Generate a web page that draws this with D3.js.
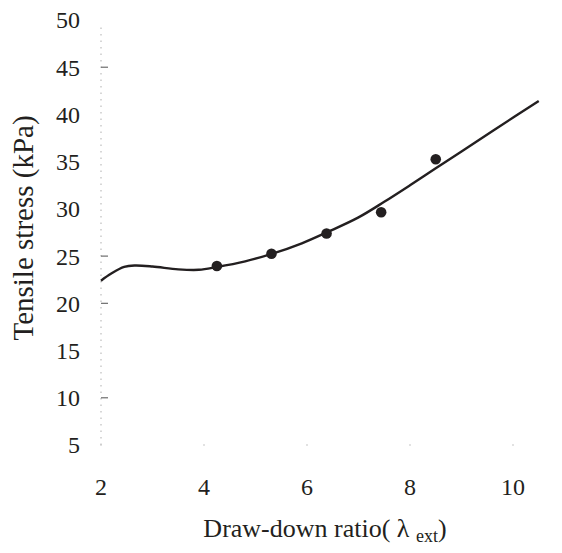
<!DOCTYPE html>
<html>
<head>
<meta charset="utf-8">
<script src="https://cdn.jsdelivr.net/npm/d3@7"></script>
<style>
  html, body { margin: 0; padding: 0; background: #fff; }
  svg { display: block; }
</style>
</head>
<body>
<svg id="chart" width="562" height="553"></svg>
<script>
// Measured tensile stress at each draw-down ratio
const ratioMeasured = [4.25, 5.31, 6.38, 7.44, 8.5];
const stressMeasured = [23.95, 25.25, 27.4, 29.65, 35.25];

// Model curve
const ratioModel = [2, 2.2, 2.45, 2.65, 3, 3.5, 3.9, 4.25, 4.8, 5.3, 5.9, 6.4, 7, 7.5, 8, 8.5, 9, 9.7, 10.5];
const stressModel = [22.4, 23.15, 23.85, 24.0, 23.9, 23.6, 23.55, 23.85, 24.45, 25.2, 26.35, 27.55, 29.1, 30.75, 32.5, 34.3, 36.08, 38.6, 41.42];

// Axis ticks
const xTicks = [2, 4, 6, 8, 10];
const yTicks = [5, 10, 15, 20, 25, 30, 35, 40, 45, 50];
const yMarkedTicks = [10, 20, 25, 45];

const svg = d3.select("#chart");
const ink = "#231f20";
const serif = "'Liberation Serif', 'Times New Roman', serif";

const x = d3.scaleLinear().domain([2, 10]).range([101, 513]);
const y = d3.scaleLinear().domain([5, 50]).range([445, 20]);

// Dotted vertical axis
svg.append("line")
  .attr("x1", x(2)).attr("x2", x(2))
  .attr("y1", y(49.2)).attr("y2", y(5))
  .attr("stroke", "#bdbdbd").attr("stroke-width", 1.2)
  .attr("stroke-dasharray", "1.5,5");

// Short marks on the vertical axis
svg.selectAll(".ymark").data(yMarkedTicks).join("line")
  .attr("class", "ymark")
  .attr("x1", x(2)).attr("x2", x(2) + 7)
  .attr("y1", d => y(d)).attr("y2", d => y(d))
  .attr("stroke", "#6d6d6d").attr("stroke-width", 1.2);

// Faint dots at the horizontal tick positions
svg.selectAll(".xmark").data(xTicks).join("rect")
  .attr("class", "xmark")
  .attr("x", d => x(d) - 0.7).attr("y", y(5) - 0.7)
  .attr("width", 1.4).attr("height", 1.4)
  .attr("fill", "#c4c4c4");

// Y tick labels
svg.selectAll(".ylab").data(yTicks).join("text")
  .attr("class", "ylab")
  .attr("x", 80).attr("y", d => y(d))
  .attr("dy", "0.35em")
  .attr("text-anchor", "end")
  .attr("font-family", serif)
  .attr("font-size", 24)
  .attr("fill", ink)
  .text(d => d);

// X tick labels
svg.selectAll(".xlab").data(xTicks).join("text")
  .attr("class", "xlab")
  .attr("x", d => x(d)).attr("y", 495)
  .attr("text-anchor", "middle")
  .attr("font-family", serif)
  .attr("font-size", 24)
  .attr("fill", ink)
  .text(d => d);

// Axis titles
const xt = svg.append("text")
  .attr("x", 325).attr("y", 537)
  .attr("text-anchor", "middle")
  .attr("font-family", serif)
  .attr("font-size", 26)
  .attr("fill", ink);
xt.append("tspan").text("Draw-down ratio( \u03bb ");
xt.append("tspan").attr("font-size", 18).attr("dy", 5).text("ext");
xt.append("tspan").attr("dy", -5).text(")");

svg.append("text")
  .attr("transform", "translate(33,228) rotate(-90)")
  .attr("text-anchor", "middle")
  .attr("font-family", serif)
  .attr("font-size", 29)
  .attr("fill", ink)
  .text("Tensile stress (kPa)");

// Model curve
const modelData = ratioModel.map((r, i) => [r, stressModel[i]]);
svg.append("path")
  .datum(modelData)
  .attr("fill", "none")
  .attr("stroke", ink)
  .attr("stroke-width", 2.4)
  .attr("d", d3.line().x(d => x(d[0])).y(d => y(d[1])).curve(d3.curveCatmullRom.alpha(0.5)));

// Measured points
svg.selectAll(".pt").data(ratioMeasured.map((r, i) => [r, stressMeasured[i]])).join("circle")
  .attr("class", "pt")
  .attr("cx", d => x(d[0])).attr("cy", d => y(d[1]))
  .attr("r", 5.3)
  .attr("fill", ink);
</script>
</body>
</html>
